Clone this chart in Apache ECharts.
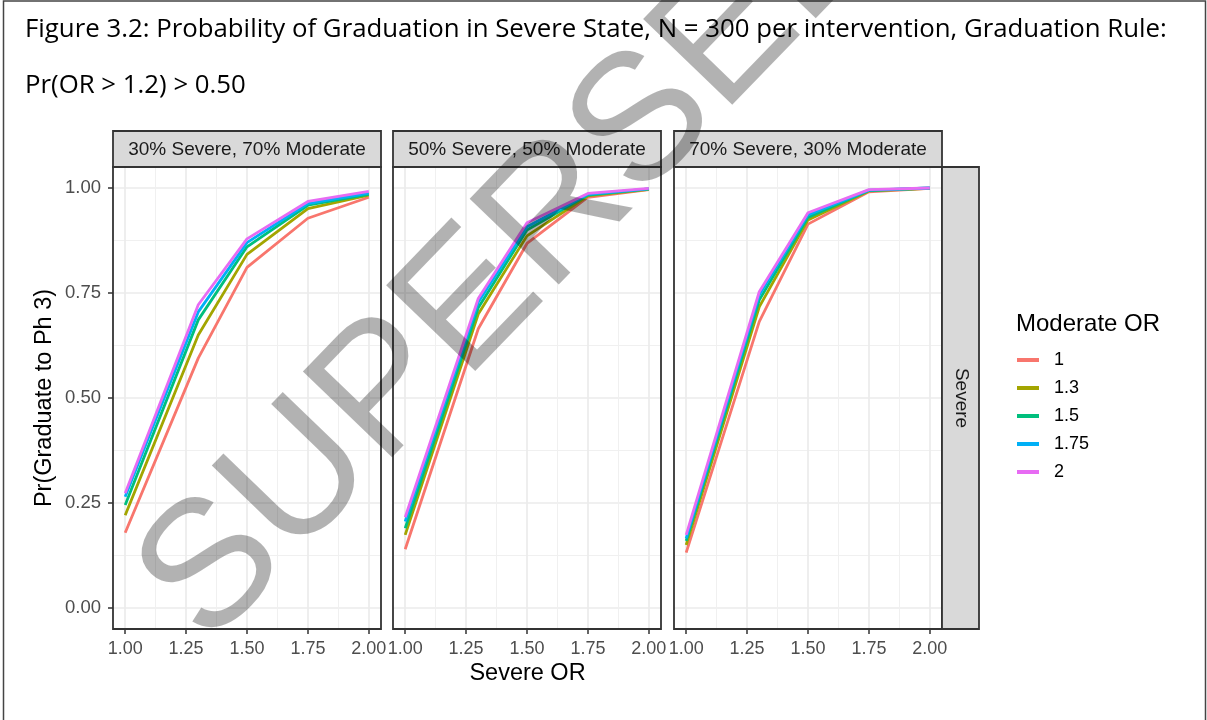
<!DOCTYPE html>
<html>
<head>
<meta charset="utf-8">
<script src="https://cdn.jsdelivr.net/npm/echarts@6/dist/echarts.min.js"></script>
<style>
html,body{margin:0;padding:0;background:#fff;}
#chart{width:1207px;height:720px;}
</style>
</head>
<body>
<div id="chart"></div>
<script>
// ---- data ----
const severeOR = [1, 1.3, 1.5, 1.75, 2];
const moderateOR = ['1', '1.3', '1.5', '1.75', '2'];
const panelLabels = ['30% Severe, 70% Moderate', '50% Severe, 50% Moderate', '70% Severe, 30% Moderate'];
const xTicks = [1, 1.25, 1.5, 1.75, 2];
const xMinorTicks = [1.125, 1.375, 1.625, 1.875];
const yTicks = [0, 0.25, 0.5, 0.75, 1];
const yMinorTicks = [0.125, 0.375, 0.625, 0.875];

// Pr(Graduate to Ph 3), one array per Moderate OR, per panel
const p30_m1   = [0.179, 0.595, 0.811, 0.928, 0.978];
const p30_m13  = [0.221, 0.650, 0.842, 0.951, 0.983];
const p30_m15  = [0.245, 0.686, 0.860, 0.959, 0.985];
const p30_m175 = [0.265, 0.705, 0.870, 0.963, 0.988];
const p30_m2   = [0.273, 0.722, 0.879, 0.968, 0.992];

const p50_m1   = [0.140, 0.665, 0.868, 0.978, 0.996];
const p50_m13  = [0.174, 0.700, 0.886, 0.981, 0.997];
const p50_m15  = [0.190, 0.715, 0.900, 0.983, 0.998];
const p50_m175 = [0.206, 0.728, 0.908, 0.985, 0.998];
const p50_m2   = [0.216, 0.737, 0.917, 0.987, 0.999];

const p70_m1   = [0.132, 0.682, 0.914, 0.991, 0.999];
const p70_m13  = [0.150, 0.717, 0.924, 0.993, 0.999];
const p70_m15  = [0.160, 0.733, 0.930, 0.994, 1.000];
const p70_m175 = [0.166, 0.745, 0.936, 0.995, 1.000];
const p70_m2   = [0.174, 0.753, 0.941, 0.996, 1.000];

const panelData = [
  [p30_m1, p30_m13, p30_m15, p30_m175, p30_m2],
  [p50_m1, p50_m13, p50_m15, p50_m175, p50_m2],
  [p70_m1, p70_m13, p70_m15, p70_m175, p70_m2]
];

// ---- style ----
const colors = ['#F8766D', '#A3A500', '#00BF7D', '#00B0F6', '#E76BF3'];
const FONT = 'Liberation Sans';
const panelLeft = [113, 393, 674];
const panelW = 268;
const panelTop = 167;
const panelH = 462;
const stripTop = 131;

const grids = [], xAxes = [], yAxes = [], series = [], graphics = [];

panelLeft.forEach((left) => {
  grids.push({left: left, top: panelTop, width: panelW, height: panelH, show: false, containLabel: false});
});

// main axes (0..2), minor-grid axes (3..5)
for (let p = 0; p < 3; p++) {
  xAxes.push({
    type: 'value', gridIndex: p, min: 0.95, max: 2.05, position: 'bottom',
    axisLine: {show: false, onZero: false},
    axisTick: {show: true, length: 5, customValues: xTicks, lineStyle: {color: '#333333', width: 1.5}},
    axisLabel: {show: true, customValues: xTicks, margin: 11, color: '#4D4D4D', fontSize: 18, fontFamily: FONT,
      formatter: v => v.toFixed(2)},
    splitLine: {show: true, lineStyle: {color: '#EBEBEB', width: 1.7}}
  });
  yAxes.push({
    type: 'value', gridIndex: p, min: -0.05, max: 1.05, position: 'left',
    axisLine: {show: false, onZero: false},
    axisTick: {show: p === 0, length: 5, customValues: yTicks, lineStyle: {color: '#333333', width: 1.5}},
    axisLabel: {show: p === 0, customValues: yTicks, margin: 12, color: '#4D4D4D', fontSize: 18.5, fontFamily: FONT,
      formatter: v => v.toFixed(2)},
    splitLine: {show: true, lineStyle: {color: '#EBEBEB', width: 1.7}}
  });
}
for (let p = 0; p < 3; p++) {
  xAxes.push({
    type: 'value', gridIndex: p, min: 0.95, max: 2.05, position: 'bottom',
    axisLine: {show: false, onZero: false},
    axisTick: {show: false, customValues: xMinorTicks},
    axisLabel: {show: false, customValues: xMinorTicks},
    splitLine: {show: true, lineStyle: {color: '#F0F0F0', width: 1}}
  });
  yAxes.push({
    type: 'value', gridIndex: p, min: -0.05, max: 1.05, position: 'left',
    axisLine: {show: false, onZero: false},
    axisTick: {show: false, customValues: yMinorTicks},
    axisLabel: {show: false, customValues: yMinorTicks},
    splitLine: {show: true, lineStyle: {color: '#F0F0F0', width: 1}}
  });
}

for (let p = 0; p < 3; p++) {
  panelData[p].forEach((vals, m) => {
    series.push({
      type: 'line', name: moderateOR[m], xAxisIndex: p, yAxisIndex: p,
      data: severeOR.map((x, i) => [x, vals[i]]),
      color: colors[m],
      showSymbol: false, symbol: 'none', silent: true,
      lineStyle: {width: 2.8, color: colors[m]},
      z: 3
    });
  });
}

// panel borders and strips
panelLeft.forEach((left, p) => {
  graphics.push({type: 'rect', z: 50, silent: true,
    shape: {x: left, y: panelTop, width: panelW, height: panelH},
    style: {fill: 'none', stroke: '#333333', lineWidth: 1.8}});
  graphics.push({type: 'rect', z: 50, silent: true,
    shape: {x: left, y: stripTop, width: panelW, height: panelTop - stripTop},
    style: {fill: '#D9D9D9', stroke: '#333333', lineWidth: 1.8}});
  graphics.push({type: 'text', z: 51, silent: true,
    x: left + panelW / 2, y: (stripTop + panelTop) / 2 + 1,
    style: {text: panelLabels[p], fill: '#1A1A1A', font: '19px "Liberation Sans"', align: 'center', verticalAlign: 'middle'}});
});
// right strip
graphics.push({type: 'rect', z: 50, silent: true,
  shape: {x: 942, y: panelTop, width: 37, height: panelH},
  style: {fill: '#D9D9D9', stroke: '#333333', lineWidth: 1.8}});
graphics.push({type: 'text', z: 51, silent: true,
  x: 961, y: panelTop + panelH / 2, rotation: -Math.PI / 2,
  style: {text: 'Severe', fill: '#1A1A1A', font: '19px "Liberation Sans"', align: 'center', verticalAlign: 'middle'}});

// axis titles
graphics.push({type: 'text', z: 51, silent: true, x: 527.5, y: 674,
  style: {text: 'Severe OR', fill: '#000', font: '23.5px "Liberation Sans"', align: 'center', verticalAlign: 'middle'}});
graphics.push({type: 'text', z: 51, silent: true, x: 45, y: 398, rotation: Math.PI / 2,
  style: {text: 'Pr(Graduate to Ph 3)', fill: '#000', font: '23.5px "Liberation Sans"', align: 'center', verticalAlign: 'middle'}});

// legend title
graphics.push({type: 'text', z: 51, silent: true, x: 1016, y: 324,
  style: {text: 'Moderate OR', fill: '#000', font: '24px "Liberation Sans"', align: 'left', verticalAlign: 'middle'}});

// figure caption
graphics.push({type: 'text', z: 51, silent: true, x: 25, y: 30,
  style: {text: 'Figure 3.2: Probability of Graduation in Severe State, N = 300 per intervention, Graduation Rule:', fill: '#000', font: '25.8px "Open Sans"', align: 'left', verticalAlign: 'middle'}});
graphics.push({type: 'text', z: 51, silent: true, x: 25, y: 86,
  style: {text: 'Pr(OR > 1.2) > 0.50', fill: '#000', font: '25.8px "Open Sans"', align: 'left', verticalAlign: 'middle'}});

// outer frame
graphics.push({type: 'rect', z: 60, silent: true,
  shape: {x: 3.5, y: 1, width: 1202, height: 740},
  style: {fill: 'none', stroke: '#444444', lineWidth: 1.5}});

// watermark
graphics.push({type: 'text', z: 200, silent: true, x: 237, y: 676, rotation: 0.803,
  style: {text: 'SUPERSEDED', fill: 'rgba(0,0,0,0.3)', font: '180px "Liberation Sans"', align: 'left', verticalAlign: 'bottom'}});

const chart = echarts.init(document.getElementById('chart'), null, {renderer: 'canvas'});
chart.setOption({
  animation: false,
  backgroundColor: '#ffffff',
  grid: grids,
  xAxis: xAxes,
  yAxis: yAxes,
  series: series,
  legend: {
    orient: 'vertical', left: 1017, top: 351, padding: 0,
    itemWidth: 22, itemHeight: 4, itemGap: 10, icon: 'rect',
    selectedMode: false,
    data: moderateOR,
    textStyle: {fontSize: 18, color: '#000', fontFamily: FONT, padding: [0, 0, 0, 10]}
  },
  graphic: graphics
});
</script>
</body>
</html>
